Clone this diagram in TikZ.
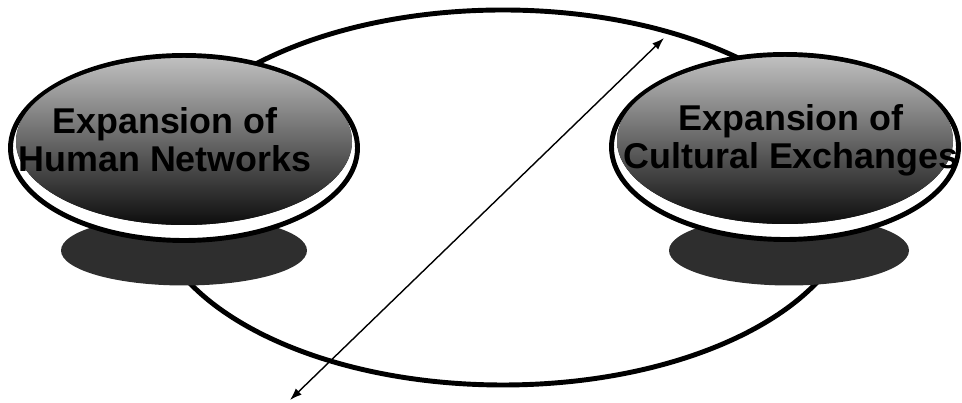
\documentclass[tikz,border=0pt]{standalone}
\usepackage{fontspec}
\setsansfont{Liberation Sans}
\usetikzlibrary{shapes.geometric,arrows.meta,calc}
\tikzset{
  ring/.style={ellipse, draw=black, line width=2.8pt, minimum width=14.08cm, minimum height=7.5cm, inner sep=0pt},
  bubble/.style={ellipse, draw=black, line width=2.8pt, fill=white, minimum width=6.94cm, minimum height=3.7cm, inner sep=0pt},
  body/.style={top color=black!25, bottom color=black!95, middle color=black!60},
  shade/.style={fill=black!82},
  bubtext/.style={align=center, font=\sffamily\bfseries\fontsize{20.4}{21.5}\selectfont, inner sep=0pt},
  arr/.style={{Latex[length=2.4mm,width=1.7mm]}-{Latex[length=2.4mm,width=1.7mm]}, line width=0.8pt}}

\begin{document}
\begin{tikzpicture}
\useasboundingbox (0,0) rectangle (19.24,8.06);
\node[ring] (cycle) at (10.06,4.11) {};
% shadows under the two bubbles
\fill[shade] (3.68,3.05) ellipse [x radius=2.46, y radius=0.70];
\fill[shade] (15.78,3.05) ellipse [x radius=2.40, y radius=0.70];
\node[bubble] (human) at (3.68,5.10) {};
\node[bubble] (culture) at (15.70,5.12) {};
\fill[body] ($(human.center)+(0,0.13)$) ellipse [x radius=3.36, y radius=1.67];
\fill[body] ($(culture.center)+(0,0.13)$) ellipse [x radius=3.36, y radius=1.67];
\node[bubtext] (humantxt) at ($(human.center)+(-0.38,0.16)$) {Expansion of\\Human Networks};
\node[bubtext] (culturetxt) at ($(culture.center)+(0.12,0.14)$) {Expansion of\\Cultural Exchanges};
\coordinate (up) at (13.28,7.30);
\coordinate (down) at (5.80,0.06);
\draw[arr] (down) -- (up);
\end{tikzpicture}
\end{document}
